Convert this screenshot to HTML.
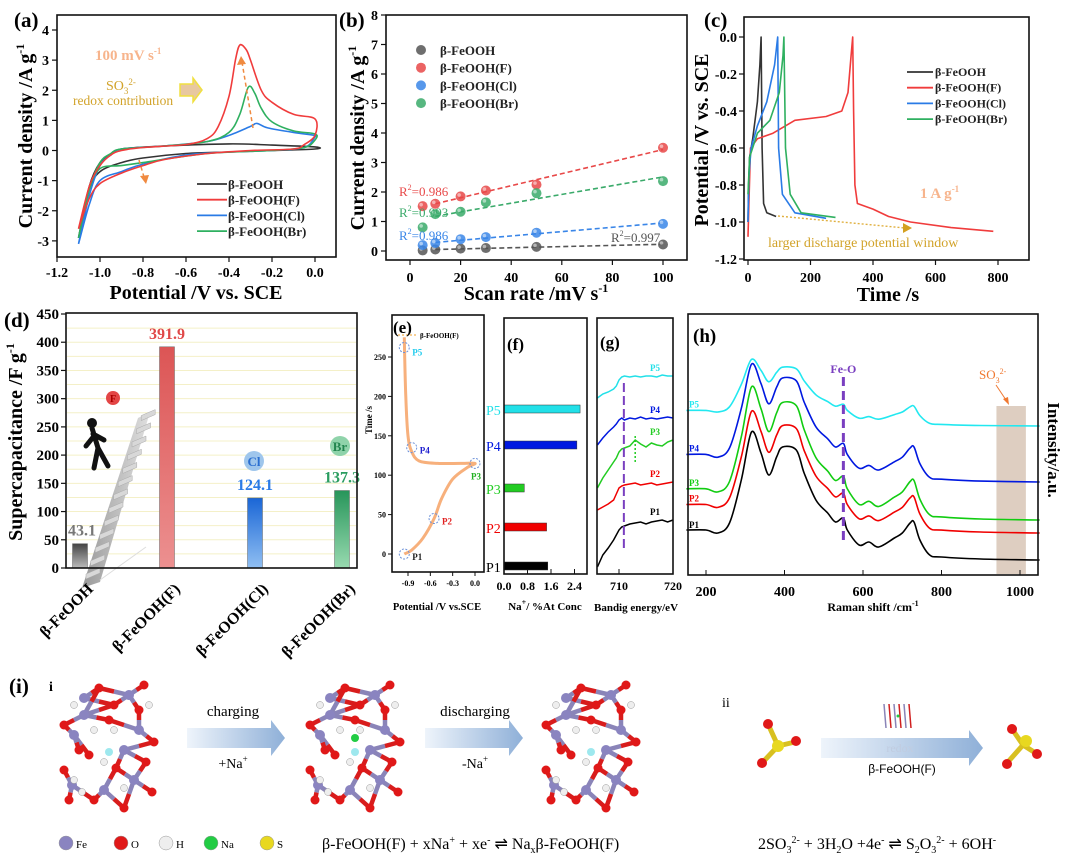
<!DOCTYPE html>
<html><head><meta charset="utf-8">
<style>
body{margin:0;background:#fff;}
svg{display:block;font-family:"Liberation Serif",serif;}
.b{font-weight:bold;}
</style></head>
<body>
<svg id="fig" width="1080" height="868" viewBox="0 0 1080 868" xmlns="http://www.w3.org/2000/svg">
<defs>
<linearGradient id="gGray" x1="0" y1="0" x2="0" y2="1"><stop offset="0" stop-color="#444"/><stop offset="1" stop-color="#bbb"/></linearGradient>
<linearGradient id="gRed" x1="0" y1="0" x2="0" y2="1"><stop offset="0" stop-color="#dc5555"/><stop offset="1" stop-color="#ec9090"/></linearGradient>
<linearGradient id="gBlue" x1="0" y1="0" x2="0" y2="1"><stop offset="0" stop-color="#1a66d6"/><stop offset="1" stop-color="#90bff2"/></linearGradient>
<linearGradient id="gGreen" x1="0" y1="0" x2="0" y2="1"><stop offset="0" stop-color="#27955a"/><stop offset="1" stop-color="#98dab0"/></linearGradient>
<linearGradient id="gArrow" x1="0" y1="0" x2="1" y2="0"><stop offset="0" stop-color="#eef4fb"/><stop offset="1" stop-color="#8fb0d8"/></linearGradient>
<linearGradient id="gStair" x1="0" y1="0" x2="1" y2="0"><stop offset="0" stop-color="#999"/><stop offset="1" stop-color="#e0e0e0"/></linearGradient>
</defs>
<g id="root"></g>
</svg>
<script>
// ---------- DATA ----------
const cvNames = ["β-FeOOH","β-FeOOH(F)","β-FeOOH(Cl)","β-FeOOH(Br)"];
const cvColors = ["#333333","#f03c3c","#2a7be6","#2fb060"];
const cvBlackV = [-1.1,-1.05,-1.0,-0.95,-0.9,-0.7,-0.4,-0.2,0,0,-0.2,-0.4,-0.6,-0.8,-0.9,-1.0,-1.05,-1.1];
const cvBlackI = [-2.9,-1.2,-0.4,-0.15,0.05,0.15,0.22,0.18,0.12,0.05,0.0,-0.05,-0.1,-0.25,-0.4,-0.7,-1.3,-2.9];
const cvFV = [-1.1,-1.05,-1.0,-0.95,-0.9,-0.8,-0.6,-0.5,-0.45,-0.4,-0.37,-0.35,-0.32,-0.3,-0.25,-0.2,-0.1,0,0,-0.05,-0.1,-0.3,-0.5,-0.7,-0.8,-0.9,-1.0,-1.05,-1.1];
const cvFI = [-2.6,-1.2,-0.5,-0.15,0.0,0.1,0.2,0.4,0.8,1.8,3.0,3.5,3.35,3.0,2.0,1.6,1.2,1.05,0.5,0.2,0.05,0.0,-0.1,-0.3,-0.5,-0.75,-1.1,-1.6,-2.6];
const cvClV = [-1.1,-1.05,-1.0,-0.95,-0.9,-0.7,-0.5,-0.4,-0.3,-0.27,-0.22,-0.1,0,0,-0.05,-0.2,-0.4,-0.6,-0.8,-0.9,-1.0,-1.05,-1.1];
const cvClI = [-3.1,-1.5,-0.5,-0.15,0.05,0.15,0.3,0.5,0.8,0.9,0.75,0.6,0.5,0.45,0.1,0.0,-0.05,-0.15,-0.45,-0.7,-1.0,-1.8,-3.1];
const cvBrV = [-1.1,-1.05,-1.0,-0.95,-0.9,-0.7,-0.5,-0.4,-0.35,-0.31,-0.28,-0.25,-0.2,-0.1,0,0,-0.05,-0.2,-0.5,-0.8,-0.9,-1.0,-1.05,-1.1];
const cvBrI = [-2.9,-1.3,-0.4,-0.1,0.05,0.15,0.3,0.6,1.2,2.1,1.9,1.4,0.95,0.65,0.55,0.35,0.1,0.0,-0.1,-0.4,-0.5,-0.6,-1.3,-2.9];
const cvXTicks = [-1.2,-1.0,-0.8,-0.6,-0.4,-0.2,0.0];
const cvYTicks = [-3,-2,-1,0,1,2,3,4];

const scanRates = [5,10,20,30,50,100];
const bFeOOH = [0.02,0.05,0.08,0.1,0.14,0.22];
const bF = [1.52,1.6,1.85,2.05,2.25,3.5];
const bCl = [0.2,0.27,0.4,0.47,0.62,0.92];
const bBr = [0.8,1.25,1.33,1.65,1.96,2.37];
const bColors = ["#555555","#e84848","#3a86e8","#3aaa6a"];
const bXTicks = [0,20,40,60,80,100];
const bYTicks = [0,1,2,3,4,5,6,7,8];

const gcdBlackT = [0,2,5,15,30,38,42,45,50,60,90];
const gcdBlackV = [-1.0,-0.8,-0.65,-0.55,-0.35,-0.15,0.0,-0.6,-0.9,-0.95,-0.97];
const gcdFT = [0,3,8,30,80,150,250,300,320,330,335,338,342,350,400,450,520,650,785];
const gcdFV = [-1.08,-0.9,-0.6,-0.55,-0.52,-0.45,-0.43,-0.4,-0.3,-0.1,0.0,-0.4,-0.8,-0.9,-0.93,-0.97,-1.0,-1.03,-1.05];
const gcdClT = [0,3,10,30,60,85,95,98,110,150,250];
const gcdClV = [-1.0,-0.75,-0.6,-0.48,-0.35,-0.15,0.0,-0.6,-0.85,-0.95,-0.98];
const gcdBrT = [0,5,30,70,100,112,115,120,135,170,280];
const gcdBrV = [-0.85,-0.65,-0.52,-0.45,-0.3,-0.1,0.0,-0.6,-0.85,-0.95,-0.975];
const cXTicks = [0,200,400,600,800];
const cYTicks = [0.0,-0.2,-0.4,-0.6,-0.8,-1.0,-1.2];

const dCats = ["β-FeOOH","β-FeOOH(F)","β-FeOOH(Cl)","β-FeOOH(Br)"];
const dVals = [43.1,391.9,124.1,137.3];
const dYTicks = [0,50,100,150,200,250,300,350,400,450];

const eV = [-0.95,-0.85,-0.7,-0.55,-0.45,-0.3,-0.1,0.0,-0.2,-0.5,-0.75,-0.85,-0.9,-0.93,-0.95];
const eT = [0,5,20,45,70,95,110,115,115,115,118,130,150,200,275];
const ePtsV = [-0.95,-0.55,0.0,-0.85,-0.95];
const ePtsT = [0,45,115,135,262];
const eXTicks = [-0.9,-0.6,-0.3,0.0];
const eYTicks = [0,50,100,150,200,250];

const fLabels = ["P1","P2","P3","P4","P5"];
const fVals = [1.49,1.45,0.69,2.48,2.59];
const fXTicks = [0.0,0.8,1.6,2.4];

const gE = [706,707,708,709,709.5,710,710.5,711,712,713,714,715,716,717,718,719,720];
const gP1 = [7,19,26,34,39,44,47,48,50,51,52,50,52,53,54,52,54];
const gP2 = [64,67,70,74,80,86,88,89,90,91,89,90,91,89,90,91,92];
const gP3 = [86,96,104,112,116,122,125,126,128,134,130,127,131,129,128,132,134];
const gP4 = [129,136,142,147,150,154,156,154,156,155,157,155,156,155,156,157,156];
const gP5 = [176,180,182,185,188,194,197,198,197,198,197,198,198,197,199,198,198];
const gXTicks = [710,720];

const ramanX = [150,200,230,260,290,316,340,360,380,395,430,450,480,510,530,550,560,590,615,640,680,700,720,730,745,770,800,900,1050];
const ramanP1 = [30,30,27,37,80,128,107,85,103,113,110,87,60,47,38,42,30,15,18,13,22,27,37,38,20,5,3,1,0];
const ramanScale = [1,0.95,1.04,0.92,0.52];
const ramanOffset = [0,27,40,78,134];
const hXTicks = [200,400,600,800,1000];

// ---------- HELPERS ----------
const NS="http://www.w3.org/2000/svg";
const root=document.getElementById('root');
function mk(tag,attrs,parent){const e=document.createElementNS(NS,tag);for(const k in attrs)e.setAttribute(k,attrs[k]);(parent||root).appendChild(e);return e;}
function txt(x,y,s,attrs,parent){const e=mk('text',Object.assign({x:x,y:y},attrs||{}),parent);e.innerHTML=s;return e;}
function smooth(pts){if(pts.length<2)return '';let d='M'+pts[0][0].toFixed(1)+','+pts[0][1].toFixed(1);
 for(let i=0;i<pts.length-1;i++){const p0=pts[i-1]||pts[i],p1=pts[i],p2=pts[i+1],p3=pts[i+2]||p2;
 const c1=[p1[0]+(p2[0]-p0[0])/6,p1[1]+(p2[1]-p0[1])/6],c2=[p2[0]-(p3[0]-p1[0])/6,p2[1]-(p3[1]-p1[1])/6];
 d+=' C'+c1[0].toFixed(1)+','+c1[1].toFixed(1)+' '+c2[0].toFixed(1)+','+c2[1].toFixed(1)+' '+p2[0].toFixed(1)+','+p2[1].toFixed(1);}return d;}
function lin(d0,d1,r0,r1){return v=>r0+(v-d0)*(r1-r0)/(d1-d0);}
function frame(x0,y0,x1,y1,name){const r=mk('rect',{x:x0,y:y0,width:x1-x0,height:y1-y0,fill:'none',stroke:'#111','stroke-width':1.6});
 
 return r;}

// ================= (a) =================
(function(){
const g=mk('g',{});


const X=lin(-1.2,0,57,315),Y=lin(0,4,150.5,30);
frame(57,15,336,257,'panel-a-frame');
cvXTicks.forEach(t=>{mk('line',{x1:X(t),x2:X(t),y1:257,y2:262,stroke:'#111','stroke-width':1.2},g);
 const l=txt(X(t),277,t.toFixed(1),{'text-anchor':'middle','font-size':14,'class':'b'},g);
 
 });
cvYTicks.forEach(t=>{mk('line',{x1:52,x2:57,y1:Y(t),y2:Y(t),stroke:'#111','stroke-width':1.2},g);
 const l=txt(49,Y(t)+5,t,{'text-anchor':'end','font-size':14,'class':'b'},g);
 
 });
const series=[[cvBlackV,cvBlackI],[cvFV,cvFI],[cvClV,cvClI],[cvBrV,cvBrI]];
[0,2,3,1].forEach(i=>{const s=series[i];const p=mk('path',{d:smooth(s[0].map((v,k)=>[X(v),Y(s[1][k])])),fill:'none',stroke:cvColors[i],'stroke-width':1.6},g);
 
 });
mk('line',{x1:253,y1:128,x2:242,y2:62,stroke:'#f08a40','stroke-width':1.5,'stroke-dasharray':'4,3'},g);
mk('polygon',{points:'241,56 237,65 246,64',fill:'#f08a40'},g);
mk('line',{x1:139,y1:160,x2:144,y2:177,stroke:'#f08a40','stroke-width':1.5,'stroke-dasharray':'4,3'},g);
mk('polygon',{points:'146,184 140,176 149,175',fill:'#f08a40'},g);
mk('polygon',{points:'180,84 193,84 193,78 202,90 193,102 193,96 180,96',fill:'#e8c8a0',stroke:'#f0e040','stroke-width':1.5},g);
txt(95,60,'100 mV s<tspan font-size="9" dy="-6">-1</tspan>',{'font-size':15,'class':'b',fill:'#f7b48c'},g);
txt(106,90,'SO<tspan font-size="9" dy="4">3</tspan><tspan font-size="9" dy="-9">2-</tspan>',{'font-size':14,fill:'#d2a32a'},g);
txt(73,105,'redox contribution',{'font-size':13.5,fill:'#d2a32a'},g);
cvNames.forEach((n,i)=>{const y=184+i*15.7;mk('line',{x1:197,x2:227,y1:y,y2:y,stroke:cvColors[i],'stroke-width':1.8},g);
 const l=txt(228,y+5,n,{'font-size':13,'class':'b',fill:'#222'},g);
 
 });
txt(14,27,'(a)',{'font-size':21,'class':'b'},g);
txt(196,299,'Potential /V vs. SCE',{'text-anchor':'middle','font-size':20,'class':'b'},g);
txt(0,0,'Current density /A g<tspan font-size="12" dy="-8">-1</tspan>',{'text-anchor':'middle','font-size':20,'class':'b',transform:'translate(32,136) rotate(-90)'},g);
})();

// ================= (b) =================
(function(){
const g=mk('g',{});


const X=lin(0,100,410,663),Y=lin(0,8,251,15);
frame(386,15,687,260,'panel-b-frame');
bXTicks.forEach(t=>{mk('line',{x1:X(t),x2:X(t),y1:260,y2:265,stroke:'#111','stroke-width':1.2},g);
 const l=txt(X(t),282,t,{'text-anchor':'middle','font-size':14,'class':'b'},g);
 
 });
bYTicks.forEach(t=>{mk('line',{x1:381,x2:386,y1:Y(t),y2:Y(t),stroke:'#111','stroke-width':1.2},g);
 const l=txt(378,Y(t)+5,t,{'text-anchor':'end','font-size':14,'class':'b'},g);
 
 });
const ser=[bFeOOH,bF,bCl,bBr];
ser.forEach((s,i)=>{const n=scanRates.length;let sx=0,sy=0,sxx=0,sxy=0;scanRates.forEach((x,k)=>{sx+=x;sy+=s[k];sxx+=x*x;sxy+=x*s[k];});
 const m=(n*sxy-sx*sy)/(n*sxx-sx*sx),c=(sy-m*sx)/n;
 const fl=mk('line',{x1:X(10),y1:Y(m*10+c),x2:X(100),y2:Y(m*100+c),stroke:bColors[i],'stroke-width':1.6,'stroke-dasharray':'5,3'},g);
 
 
 s.forEach((v,k)=>{const c1=mk('circle',{cx:X(scanRates[k]),cy:Y(v),r:5,fill:bColors[i],opacity:0.85},g);
  
  
  mk('circle',{cx:X(scanRates[k])-1.5,cy:Y(v)-1.5,r:1.8,fill:'#fff',opacity:0.5},g);});
});
cvNames.forEach((n,i)=>{const y=50+i*17.7;mk('circle',{cx:421,cy:y,r:5,fill:bColors[i],opacity:0.85},g);
 const l=txt(440,y+5,n,{'font-size':13,'class':'b',fill:'#222'},g);
 
 });
const sup='R<tspan font-size="8" dy="-6">2</tspan><tspan dy="6">=';
txt(399,196,sup+'0.986</tspan>',{'font-size':13,fill:'#e84848'},g);
txt(399,217,sup+'0.993</tspan>',{'font-size':13,fill:'#3aaa6a'},g);
txt(399,240,sup+'0.986</tspan>',{'font-size':13,fill:'#3a86e8'},g);
txt(611,242,sup+'0.997</tspan>',{'font-size':13,fill:'#555'},g);
txt(339,27,'(b)',{'font-size':21,'class':'b'},g);
txt(536,300,'Scan rate /mV s<tspan font-size="12" dy="-8">-1</tspan>',{'text-anchor':'middle','font-size':20,'class':'b'},g);
txt(0,0,'Current density /A g<tspan font-size="12" dy="-8">-1</tspan>',{'text-anchor':'middle','font-size':20,'class':'b',transform:'translate(364,138) rotate(-90)'},g);
})();

// ================= (c) =================
(function(){
const g=mk('g',{});


const X=lin(0,800,748,998),Y=lin(0,-1.2,37,259);
frame(744,17,1029,260,'panel-c-frame');
cXTicks.forEach(t=>{mk('line',{x1:X(t),x2:X(t),y1:260,y2:265,stroke:'#111','stroke-width':1.2},g);
 const l=txt(X(t),282,t,{'text-anchor':'middle','font-size':14,'class':'b'},g);
 
 });
cYTicks.forEach(t=>{mk('line',{x1:739,x2:744,y1:Y(t),y2:Y(t),stroke:'#111','stroke-width':1.2},g);
 const l=txt(737,Y(t)+5,t.toFixed(1),{'text-anchor':'end','font-size':14,'class':'b'},g);
 
 });
const ser=[[gcdBlackT,gcdBlackV],[gcdFT,gcdFV],[gcdClT,gcdClV],[gcdBrT,gcdBrV]];
ser.forEach((s,i)=>{const p=mk('polyline',{points:s[0].map((t,k)=>X(t).toFixed(1)+','+Y(s[1][k]).toFixed(1)).join(' '),fill:'none',stroke:cvColors[i],'stroke-width':1.6,'stroke-linejoin':'round'},g);
 
 });
mk('line',{x1:778,y1:216,x2:905,y2:228,stroke:'#e0b040','stroke-width':1.4,'stroke-dasharray':'2,2'},g);
mk('polygon',{points:'912,228 903,223 903,233',fill:'#d4a020'},g);
txt(768,247,'larger discharge potential window',{'font-size':14,fill:'#d2a32a'},g);
txt(920,198,'1 A g<tspan font-size="9" dy="-6">-1</tspan>',{'font-size':15,'class':'b',fill:'#f7b48c'},g);
cvNames.forEach((n,i)=>{const y=72+i*15.7;mk('line',{x1:907,x2:933,y1:y,y2:y,stroke:cvColors[i],'stroke-width':1.8},g);
 const l=txt(935,y+4,n,{'font-size':12,'class':'b',fill:'#222'},g);
 
 });
txt(704,27,'(c)',{'font-size':21,'class':'b'},g);
txt(888,301,'Time /s',{'text-anchor':'middle','font-size':20,'class':'b'},g);
txt(0,0,'Potential /V vs. SCE',{'text-anchor':'middle','font-size':20,'class':'b',transform:'translate(708,140) rotate(-90)'},g);
})();

// ================= (d) =================
(function(){
const g=mk('g',{});


const Y=lin(0,450,568,314);const centers=[80,167,255,342];
for(let v=25;v<450;v+=25){mk('line',{x1:67,x2:356,y1:Y(v),y2:Y(v),stroke:'#f4f0c8','stroke-width':1},g);}
frame(66,313,357,568,'panel-d-frame');
dYTicks.forEach(t=>{mk('line',{x1:61,x2:66,y1:Y(t),y2:Y(t),stroke:'#111','stroke-width':1.2},g);
 const l=txt(59,Y(t)+5,t,{'text-anchor':'end','font-size':15,'class':'b'},g);
 
 });
const fills=['url(#gGray)','url(#gRed)','url(#gBlue)','url(#gGreen)'];
const vcol=['#777','#e04848','#2a7be6','#2a9d60'];
// stairs illustration
const st=mk('g',{},g);


mk('polygon',{points:'82,588 138,418 150,412 100,582',fill:'url(#gStair)'},st);
for(let k=0;k<13;k++){const x=86+k*4.6,y=574-k*13.2;mk('polygon',{points:x+','+y+' '+(x+14)+','+(y-6)+' '+(x+14)+','+(y-1)+' '+x+','+(y+5),fill:'#d8d8d8',stroke:'#aaa','stroke-width':0.5},st);}
mk('line',{x1:100,y1:580,x2:146,y2:547,stroke:'#ddd','stroke-width':1},st);
mk('circle',{cx:92,cy:423,r:5,fill:'#111'},st);
mk('path',{d:'M92,428 L98,448 L108,466 M98,448 L94,468 M93,434 L104,440 M94,436 L86,446',stroke:'#111','stroke-width':5,fill:'none','stroke-linecap':'round'},st);
mk('circle',{cx:113,cy:398,r:7,fill:'#e34646'},st);
txt(113,402,'F',{'text-anchor':'middle','font-size':10,fill:'#a00','class':'b'},st);
dVals.forEach((v,i)=>{const r=mk('rect',{x:centers[i]-7.5,y:Y(v),width:15,height:568-Y(v),fill:fills[i],stroke:'#666','stroke-width':0.5},g);
 
 
 const l=txt(centers[i]+(i==0?2:0),Y(v)-8,v.toFixed(1),{'text-anchor':'middle','font-size':16,'class':'b',fill:vcol[i]},g);
 
 
 const c=txt(0,0,dCats[i],{'text-anchor':'end','font-size':16,'class':'b',transform:'translate('+(centers[i]+14)+',590) rotate(-45)'},g);
 
 });
mk('circle',{cx:254,cy:461,r:10,fill:'#9fc6ec'},g);txt(254,466,'Cl',{'text-anchor':'middle','font-size':13,fill:'#2a6ed0','class':'b'},g);
mk('circle',{cx:340,cy:446,r:10,fill:'#8fd3aa'},g);txt(340,451,'Br',{'text-anchor':'middle','font-size':13,fill:'#238650','class':'b'},g);
txt(4,327,'(d)',{'font-size':21,'class':'b'},g);
txt(0,0,'Supercapacitance /F g<tspan font-size="12" dy="-8">-1</tspan>',{'text-anchor':'middle','font-size':20,'class':'b',transform:'translate(22,442) rotate(-90)'},g);
})();

// ================= (e) =================
(function(){
const g=mk('g',{});


const X=lin(-0.9,0,408,475),Y=lin(0,250,554,357);
frame(392,315,484,572,'panel-e-frame');
eXTicks.forEach(t=>{mk('line',{x1:X(t),x2:X(t),y1:572,y2:576,stroke:'#111'},g);
 const l=txt(X(t),586,t.toFixed(1),{'text-anchor':'middle','font-size':8,'class':'b'},g);
 
 });
eYTicks.forEach(t=>{mk('line',{x1:388,x2:392,y1:Y(t),y2:Y(t),stroke:'#111'},g);
 const l=txt(386,Y(t)+3,t,{'text-anchor':'end','font-size':8,'class':'b'},g);
 
 });
const p=mk('path',{d:smooth(eV.map((v,k)=>[X(v),Y(eT[k])])),fill:'none',stroke:'#f7b07c','stroke-width':3},g);


const pc=['#222','#e02020','#22b022','#2020d0','#22ccee'];
ePtsV.forEach((v,i)=>{mk('circle',{cx:X(v),cy:Y(ePtsT[i]),r:5,fill:'none',stroke:'#6a8fd8','stroke-dasharray':'2,1.5'},g);
 const dx=i==2?-4:8,dy=i==2?16:(i==4?8:6);
 const l=txt(X(v)+dx,Y(ePtsT[i])+dy,'P'+(i+1),{'font-size':9,'class':'b',fill:pc[i]},g);
 
 });
mk('line',{x1:398,x2:417,y1:335,y2:335,stroke:'#f7c070','stroke-dasharray':'2,2','stroke-width':1.5},g);
txt(420,338,'β-FeOOH(F)',{'font-size':7,'class':'b'},g);
txt(393,333,'(e)',{'font-size':17,'class':'b'},g);
txt(0,0,'Time /s',{'text-anchor':'middle','font-size':9,'class':'b',transform:'translate(372,420) rotate(-90)'},g);
txt(437,610,'Potential /V vs.SCE',{'text-anchor':'middle','font-size':10.5,'class':'b'},g);
})();

// ================= (f) =================
(function(){
const g=mk('g',{});


const X=lin(0,2.4,504,574.5);const ys=[566,527,488,445,409];const cols=['#000','#f00000','#22cc22','#0018e0','#22e0e8'];
frame(504,318,587,574,'panel-f-frame');
fXTicks.forEach(t=>{mk('line',{x1:X(t),x2:X(t),y1:574,y2:569,stroke:'#111'},g);
 const l=txt(X(t),590,t.toFixed(1),{'text-anchor':'middle','font-size':12,'class':'b'},g);
 
 });
fVals.forEach((v,i)=>{const r=mk('rect',{x:504,y:ys[i]-4,width:X(v)-504,height:8,fill:cols[i],stroke:'#333','stroke-width':0.5},g);
 
 
 const l=txt(486,ys[i]+6,fLabels[i],{'font-size':14,fill:cols[i]},g);
 
 });
txt(507,350,'(f)',{'font-size':17,'class':'b'},g);
txt(545,610,'Na<tspan font-size="8" dy="-5">+</tspan><tspan dy="5">/ %At Conc</tspan>',{'text-anchor':'middle','font-size':11,'class':'b'},g);
})();

// ================= (g) =================
(function(){
const g=mk('g',{});


const X=lin(710,720,619,673);const Y=v=>574-v;const cols=['#000','#f00000','#22cc22','#0018e0','#22e0e8'];
frame(597,318,673,574,'panel-g-frame');
gXTicks.forEach(t=>{mk('line',{x1:X(t),x2:X(t),y1:574,y2:569,stroke:'#111'},g);
 const l=txt(X(t),590,t,{'text-anchor':'middle','font-size':12,'class':'b'},g);
 
 });
[gP1,gP2,gP3,gP4,gP5].forEach((s,i)=>{const p=mk('polyline',{points:gE.map((e,k)=>X(e).toFixed(1)+','+Y(s[k]).toFixed(1)).join(' '),fill:'none',stroke:cols[i],'stroke-width':1.5},g);
 
 
 const l=txt(650,Y(s[s.length-1])-5,'P'+(i+1),{'font-size':9,'class':'b',fill:cols[i]},g);
 
 });
mk('line',{x1:X(710.9),x2:X(710.9),y1:383,y2:548,stroke:'#7a3fc0','stroke-width':2,'stroke-dasharray':'9,4'},g);
mk('line',{x1:X(713),x2:X(713),y1:436,y2:464,stroke:'#22cc22','stroke-width':1.5,'stroke-dasharray':'2,2'},g);
txt(600,348,'(g)',{'font-size':17,'class':'b'},g);
txt(636,611,'Bandig energy/eV',{'text-anchor':'middle','font-size':11,'class':'b'},g);
})();

// ================= (h) =================
(function(){
const g=mk('g',{});


const X=lin(200,1000,706,1020);const base=560;const cols=['#000','#f00000','#11cc11','#0018e0','#22e8f0'];
mk('rect',{x:X(940),y:406,width:X(1015)-X(940),height:168,fill:'#c8ad98',opacity:0.6},g);
[4,3,2,1,0].forEach(i=>{const p=mk('path',{d:smooth(ramanX.map((x,k)=>[X(x),base-ramanOffset[i]-ramanScale[i]*ramanP1[k]])),fill:'none',stroke:cols[i],'stroke-width':1.6},g);
 
 
 const l=txt(689,base-ramanOffset[i]-ramanScale[i]*ramanP1[0]+(i==0?-2:-3),'P'+(i+1),{'font-size':9,'class':'b',fill:cols[i]},g);
 
 });
frame(688,314,1038,575,'panel-h-frame');
hXTicks.forEach(t=>{mk('line',{x1:X(t),x2:X(t),y1:575,y2:570,stroke:'#111'},g);
 const l=txt(X(t),596,t,{'text-anchor':'middle','font-size':14,'class':'b'},g);
 
 });
mk('line',{x1:X(550),x2:X(550),y1:377,y2:544,stroke:'#7a3fc0','stroke-width':3,'stroke-dasharray':'9,5'},g);
txt(X(550),373,'Fe-O',{'text-anchor':'middle','font-size':12,'class':'b',fill:'#7a3fc0'},g);
txt(979,379,'SO<tspan font-size="8" dy="4">3</tspan><tspan font-size="8" dy="-9">2-</tspan>',{'font-size':13,fill:'#f07830'},g);
mk('line',{x1:996,y1:385,x2:1006,y2:400,stroke:'#f07830','stroke-width':1},g);
mk('polygon',{points:'1009,405 1003,399 1008,397',fill:'#f07830'},g);
txt(693,342,'(h)',{'font-size':19,'class':'b'},g);
txt(873,611,'Raman shift /cm<tspan font-size="8" dy="-5">-1</tspan>',{'text-anchor':'middle','font-size':12,'class':'b'},g);
txt(0,0,'Intensity/a.u.',{'text-anchor':'middle','font-size':17,'class':'b',transform:'translate(1048,450) rotate(90)'},g);
})();

// ================= (i) =================
(function(){
const g=mk('g',{});


function cluster(ox,oy,na){
 const fe=[[30,18],[75,15],[20,55],[85,50],[18,105],[80,100],[50,110],[30,35],[70,70]];
 const o=[[45,8],[90,5],[10,45],[100,62],[35,75],[62,88],[10,90],[98,112],[40,120],[70,128],[55,40],[25,70],[92,82],[60,25],[15,120],[85,30]];
 const h=[[20,25],[95,25],[60,50],[40,50],[70,108],[20,100],[50,82],[28,112]];
 fe.forEach((a,i)=>{o.forEach(b=>{const d=Math.hypot(a[0]-b[0],a[1]-b[1]);if(d<32){
  const mx=(a[0]+b[0])/2,my=(a[1]+b[1])/2;
  mk('line',{x1:ox+a[0],y1:oy+a[1],x2:ox+mx,y2:oy+my,stroke:'#8a84b8','stroke-width':4.5},g);
  mk('line',{x1:ox+mx,y1:oy+my,x2:ox+b[0],y2:oy+b[1],stroke:'#d81c1c','stroke-width':4.5},g);}});});
 fe.forEach(a=>mk('circle',{cx:ox+a[0],cy:oy+a[1],r:5,fill:'#8a84c0'},g));
 o.forEach(a=>mk('circle',{cx:ox+a[0],cy:oy+a[1],r:4.5,fill:'#e01818'},g));
 h.forEach(a=>mk('circle',{cx:ox+a[0],cy:oy+a[1],r:3.5,fill:'#eee',stroke:'#999','stroke-width':0.5},g));
 if(na)mk('circle',{cx:ox+55,cy:oy+58,r:4,fill:'#22cc44'},g);
 mk('circle',{cx:ox+55,cy:oy+72,r:4,fill:'#9ee8ee'},g);
}
cluster(54,680,false);cluster(300,680,true);cluster(536,680,false);
function arrow(x0,x1,y){mk('polygon',{points:x0+','+(y-10)+' '+(x1-14)+','+(y-10)+' '+(x1-14)+','+(y-18)+' '+x1+','+y+' '+(x1-14)+','+(y+18)+' '+(x1-14)+','+(y+10)+' '+x0+','+(y+10),fill:'url(#gArrow)'},g);}
arrow(187,285,738);arrow(425,523,738);arrow(821,983,748);
txt(233,716,'charging',{'text-anchor':'middle','font-size':15},g);
txt(233,768,'+Na<tspan font-size="9" dy="-6">+</tspan>',{'text-anchor':'middle','font-size':14},g);
txt(475,716,'discharging',{'text-anchor':'middle','font-size':15},g);
txt(475,768,'-Na<tspan font-size="9" dy="-6">+</tspan>',{'text-anchor':'middle','font-size':14},g);
txt(9,693,'(i)',{'font-size':21,'class':'b'},g);
txt(49,691,'i',{'font-size':14,'class':'b'},g);
txt(722,707,'ii',{'font-size':14},g);
txt(900,752,'redox',{'text-anchor':'middle','font-size':12,fill:'#c0cce0'},g);
txt(902,773,'β-FeOOH(F)',{'text-anchor':'middle','font-size':12,'font-family':'Liberation Sans,sans-serif'},g);
for(let k=0;k<6;k++){mk('line',{x1:884+k*5,y1:704,x2:886+k*5,y2:728,stroke:k%2?'#d02020':'#8a84b8','stroke-width':1.5},g);}
mk('circle',{cx:898,cy:716,r:1.5,fill:'#22cc44'},g);
mk('line',{x1:768,y1:724,x2:778,y2:746,stroke:'#d8c020','stroke-width':5},g);
mk('line',{x1:778,y1:746,x2:795,y2:742,stroke:'#d8c020','stroke-width':5},g);
mk('line',{x1:778,y1:746,x2:763,y2:762,stroke:'#d8c020','stroke-width':5},g);
mk('circle',{cx:768,cy:724,r:5,fill:'#e01818'},g);mk('circle',{cx:796,cy:741,r:5,fill:'#e01818'},g);mk('circle',{cx:762,cy:763,r:5,fill:'#e01818'},g);
mk('circle',{cx:778,cy:746,r:6,fill:'#e8d820'},g);
mk('line',{x1:1012,y1:729,x2:1023,y2:745,stroke:'#d8c020','stroke-width':5},g);
mk('line',{x1:1023,y1:745,x2:1007,y2:763,stroke:'#d8c020','stroke-width':5},g);
mk('line',{x1:1023,y1:745,x2:1034,y2:752,stroke:'#d8c020','stroke-width':5},g);
mk('circle',{cx:1012,cy:729,r:5,fill:'#e01818'},g);mk('circle',{cx:1007,cy:764,r:5,fill:'#e01818'},g);mk('circle',{cx:1037,cy:754,r:5,fill:'#e01818'},g);
mk('circle',{cx:1026,cy:741,r:6,fill:'#e8d820'},g);
const atoms=[['Fe','#8a84c0',66],['O','#e01818',121],['H','#eeeeee',166],['Na','#22cc44',211],['S','#e8d820',267]];
atoms.forEach(a=>{const c=mk('circle',{cx:a[2],cy:843,r:7,fill:a[1],stroke:'#999','stroke-width':0.5},g);
 
 
 txt(a[2]+10,848,a[0],{'font-size':11},g);});
txt(322,849,'β-FeOOH(F) + xNa<tspan font-size="10" dy="-6">+</tspan><tspan dy="6"> + xe</tspan><tspan font-size="10" dy="-6">-</tspan><tspan dy="6"> ⇌ Na</tspan><tspan font-size="10" dy="4">x</tspan><tspan dy="-4">β-FeOOH(F)</tspan>',{'font-size':16},g);
txt(758,849,'2SO<tspan font-size="10" dy="4">3</tspan><tspan font-size="10" dy="-10">2-</tspan><tspan dy="6"> + 3H</tspan><tspan font-size="10" dy="4">2</tspan><tspan dy="-4">O +4e</tspan><tspan font-size="10" dy="-6">-</tspan><tspan dy="6"> ⇌ S</tspan><tspan font-size="10" dy="4">2</tspan><tspan dy="-4">O</tspan><tspan font-size="10" dy="4">3</tspan><tspan font-size="10" dy="-10">2-</tspan><tspan dy="6"> + 6OH</tspan><tspan font-size="10" dy="-6">-</tspan>',{'font-size':16},g);
})();
</script>
</body></html>
